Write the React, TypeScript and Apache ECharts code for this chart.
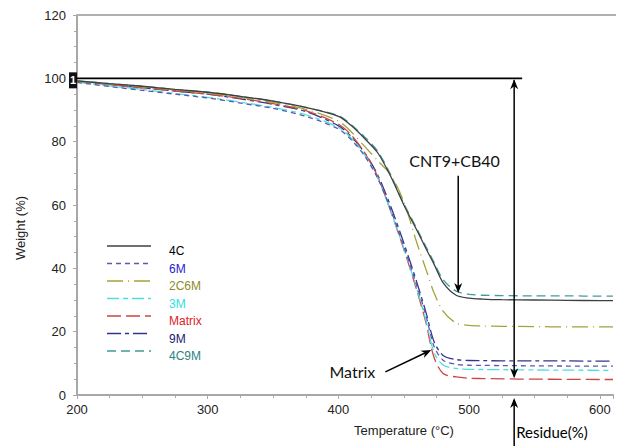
import React, { useEffect, useRef } from "react";
import * as echarts from "echarts";

// Temperature grid (°C)
const temps = [200, 225, 250, 275, 300, 325, 350, 375, 400, 410, 420, 430, 440, 450, 460, 467, 473, 480, 490, 500, 510, 525, 550, 575, 600, 610];

// Weight (%) per sample, one value per temperature above
const w4C = [99.2, 98.3, 97.5, 96.5, 95.6, 94.3, 92.8, 90.8, 88, 85, 81, 76.5, 69, 60, 52, 46.2, 41.4, 35.5, 31.5, 30.6, 30.3, 30.1, 30, 29.9, 29.8, 29.8];
const w6M = [98.7, 97.4, 96.2, 95, 93.8, 92.2, 90.5, 88, 84, 80.5, 75.5, 68.5, 58.5, 47, 34.5, 25, 15.5, 11, 9.7, 9.4, 9.35, 9.3, 9.2, 9.15, 9.1, 9.1];
const w2C6M = [99.1, 98.2, 97.3, 96.3, 95.3, 94, 92.4, 90.2, 86.5, 83, 78.5, 74, 69.5, 61, 48, 39.6, 32.4, 26.5, 22.7, 22, 21.8, 21.7, 21.6, 21.5, 21.5, 21.5];
const w3M = [98.8, 97.6, 96.5, 95.2, 94, 92.5, 90.8, 88.5, 84.5, 81, 75.8, 68.5, 58, 46.3, 33.5, 23.5, 13.5, 9.5, 8.4, 8.1, 8.05, 8, 7.9, 7.85, 7.8, 7.8];
const wMatrix = [99, 98, 97, 96, 95, 93.7, 92, 89.8, 85.5, 82, 76.5, 69, 58, 46, 33, 22.7, 12, 6.8, 5.7, 5.3, 5.2, 5.1, 5, 4.95, 4.9, 4.9];
const w9M = [99, 98, 97, 96, 95, 93.5, 91.8, 89.5, 85, 81.5, 76.5, 69.5, 59.5, 48, 35.5, 26, 17, 12.5, 11.2, 10.9, 10.85, 10.8, 10.8, 10.75, 10.7, 10.7];
const w4C9M = [99.2, 98.3, 97.5, 96.5, 95.6, 94.3, 92.8, 90.8, 88.2, 85.3, 81.5, 77, 69.5, 60.5, 52.5, 46.8, 42, 36.5, 32.8, 31.8, 31.5, 31.4, 31.3, 31.3, 31.2, 31.2];

const seriesNames = ["4C", "6M", "2C6M", "3M", "Matrix", "9M", "4C9M"];
const seriesValues = [w4C, w6M, w2C6M, w3M, wMatrix, w9M, w4C9M];
const lineColors = ["#404040", "#5a5ab0", "#a3a33c", "#4fdede", "#cc4646", "#34348a", "#3f9c9c"];
const textColors = ["#000000", "#2424cc", "#8c8c28", "#30dede", "#dd2222", "#1a1a70", "#2a8383"];
const dashes: (number[] | "solid")[] = ["solid", [5, 4], [16, 5, 1, 5], [12, 4, 5, 4], [14, 5], [14, 4, 4, 4], [9, 5]];

const xTicks = { min: 200, max: 610, interval: 100 };
const yTicks = { min: 0, max: 120, interval: 20 };

const FONT = "Liberation Sans";
const ANN_FONT = "Lato";

export default function App() {
  const ref = useRef<HTMLDivElement>(null);

  useEffect(() => {
    if (!ref.current) return;
    const chart = echarts.init(ref.current, null, { renderer: "svg" });

    const axisCommon = {
      axisLine: { show: true, lineStyle: { color: "#a8a8a8", width: 2 } },
      axisTick: { show: true, inside: false, length: 4, lineStyle: { color: "#a8a8a8", width: 1 } },
      minorTick: { show: true, splitNumber: 4, length: 3, lineStyle: { color: "#a8a8a8", width: 1 } },
      splitLine: { show: false },
      axisLabel: { color: "#222", fontFamily: FONT, fontSize: 13 },
    };

    chart.setOption({
      animation: false,
      backgroundColor: "#ffffff",
      grid: { left: 77, right: 10, top: 15, bottom: 51, containLabel: false },
      xAxis: {
        type: "value",
        ...xTicks,
        ...axisCommon,
        axisLabel: { ...axisCommon.axisLabel, margin: 8, showMaxLabel: false },
      },
      yAxis: {
        type: "value",
        ...yTicks,
        ...axisCommon,
        axisLabel: { ...axisCommon.axisLabel, margin: 11 },
      },
      legend: {
        orient: "vertical",
        left: 106,
        top: 240,
        itemWidth: 44,
        itemHeight: 12,
        itemGap: 5.5,
        selectedMode: false,
        icon: "none",
        itemStyle: { opacity: 0 },
        textStyle: { fontFamily: FONT, fontSize: 12, padding: [0, 0, 0, 9] },
        data: seriesNames.map((n, i) => ({ name: n, textStyle: { color: textColors[i] } })),
      },
      series: seriesNames.map((n, i) => ({
        name: n,
        type: "line",
        symbol: "none",
        showSymbol: false,
        smooth: 0.3,
        z: 10 - i,
        lineStyle: { color: lineColors[i], width: 1.3, type: dashes[i] },
        itemStyle: { color: lineColors[i] },
        data: temps.map((t, k) => [t, seriesValues[i][k]]),
      })),
    });

    const px = (t: number, w: number) => chart.convertToPixel({ gridIndex: 0 }, [t, w]) as number[];

    const headDown = (x: number, y: number) => ({
      type: "polygon",
      shape: { points: [[x, y], [x - 4, y - 10], [x, y - 7], [x + 4, y - 10]] },
      style: { fill: "#000" },
      z: 100,
    });
    const headUp = (x: number, y: number) => ({
      type: "polygon",
      shape: { points: [[x, y], [x - 4, y + 10], [x, y + 7], [x + 4, y + 10]] },
      style: { fill: "#000" },
      z: 100,
    });

    const [x0, y100] = px(200, 100);
    const [xEnd] = px(540.5, 100);
    const [xr, yRes] = px(534.4, 5.3);
    const [, yAxis0] = px(534.4, 0);
    const [xc, yc1] = px(491.6, 69.2);
    const [, yc2] = px(491.6, 32.2);
    const [mx1, my1] = px(435.9, 7.3);
    const [mx2, my2] = px(471, 14.2);
    const [tcx, tcy] = px(454.2, 74.2);
    const [tmx, tmy] = px(393.1, 7.3);
    const [, yTop] = px(200, 120);
    const [xRight] = px(610, 120);

    // matrix arrowhead
    const ang = Math.atan2(my2 - my1, mx2 - mx1);
    const hl = 10, hw = 4;
    const bx = mx2 - hl * Math.cos(ang), by = my2 - hl * Math.sin(ang);
    const nx = -Math.sin(ang), ny = Math.cos(ang);
    const ix = mx2 - 7 * Math.cos(ang), iy = my2 - 7 * Math.sin(ang);

    // manual legend line samples (dash styles as in the series)
    const legendLines = seriesNames.map((n, i) => ({
      type: "line",
      shape: { x1: 107, y1: 246 + i * 17.5, x2: 151, y2: 246 + i * 17.5 },
      style: { stroke: lineColors[i], lineWidth: 1.5, lineDash: dashes[i] === "solid" ? null : dashes[i] },
      z: 100,
    }));

    chart.setOption({
      graphic: [
        ...legendLines,
        { type: "line", shape: { x1: x0, y1: yTop, x2: xRight + 3, y2: yTop }, style: { stroke: "#b0b0b0", lineWidth: 2 }, z: 50 },
        { type: "line", shape: { x1: x0, y1: y100, x2: xEnd, y2: y100 }, style: { stroke: "#000", lineWidth: 1.6 }, z: 100 },
        { type: "rect", shape: { x: x0 - 8, y: y100 - 6, width: 8, height: 16 }, style: { fill: "#111" }, z: 100 },
        { type: "text", x: x0 - 4, y: y100 + 2, style: { text: "1", fill: "#fff", font: `bold 11px ${FONT}`, align: "center", verticalAlign: "middle" }, z: 101 },
        { type: "line", shape: { x1: xr, y1: y100 + 2, x2: xr, y2: yRes - 2 }, style: { stroke: "#000", lineWidth: 1.5 }, z: 100 },
        headUp(xr, y100 + 1),
        headDown(xr, yRes),
        { type: "line", shape: { x1: xr, y1: yAxis0 + 5, x2: xr, y2: 446 }, style: { stroke: "#000", lineWidth: 1.5 }, z: 100 },
        headUp(xr, yAxis0 + 3),
        { type: "text", x: xr + 2, y: 432, style: { text: "Residue(%)", fill: "#000", font: `15px ${ANN_FONT}`, align: "left", verticalAlign: "middle" }, z: 100 },
        { type: "text", x: tcx, y: tcy, style: { text: "CNT9+CB40", fill: "#111", font: `16px ${ANN_FONT}`, align: "left", verticalAlign: "middle" }, z: 100 },
        { type: "line", shape: { x1: xc, y1: yc1, x2: xc, y2: yc2 - 4 }, style: { stroke: "#000", lineWidth: 1.5 }, z: 100 },
        headDown(xc, yc2),
        { type: "text", x: tmx, y: tmy, style: { text: "Matrix", fill: "#111", font: `16px ${ANN_FONT}`, align: "left", verticalAlign: "middle" }, z: 100 },
        { type: "line", shape: { x1: mx1, y1: my1, x2: ix, y2: iy }, style: { stroke: "#000", lineWidth: 1.5 }, z: 100 },
        {
          type: "polygon",
          shape: { points: [[mx2, my2], [bx + nx * hw, by + ny * hw], [ix, iy], [bx - nx * hw, by - ny * hw]] },
          style: { fill: "#000" },
          z: 100,
        },
        { type: "text", x: 404, y: 430, style: { text: "Temperature (°C)", fill: "#222", font: `13px ${FONT}`, align: "center", verticalAlign: "middle" }, z: 100 },
        { type: "text", x: 20, y: 228, rotation: Math.PI / 2, style: { text: "Weight (%)", fill: "#222", font: `13px ${FONT}`, align: "center", verticalAlign: "middle" }, z: 100 },
      ],
    });

    return () => chart.dispose();
  }, []);

  return <div ref={ref} style={{ position: "fixed", left: 0, top: 0, width: 623, height: 446 }} />;
}
